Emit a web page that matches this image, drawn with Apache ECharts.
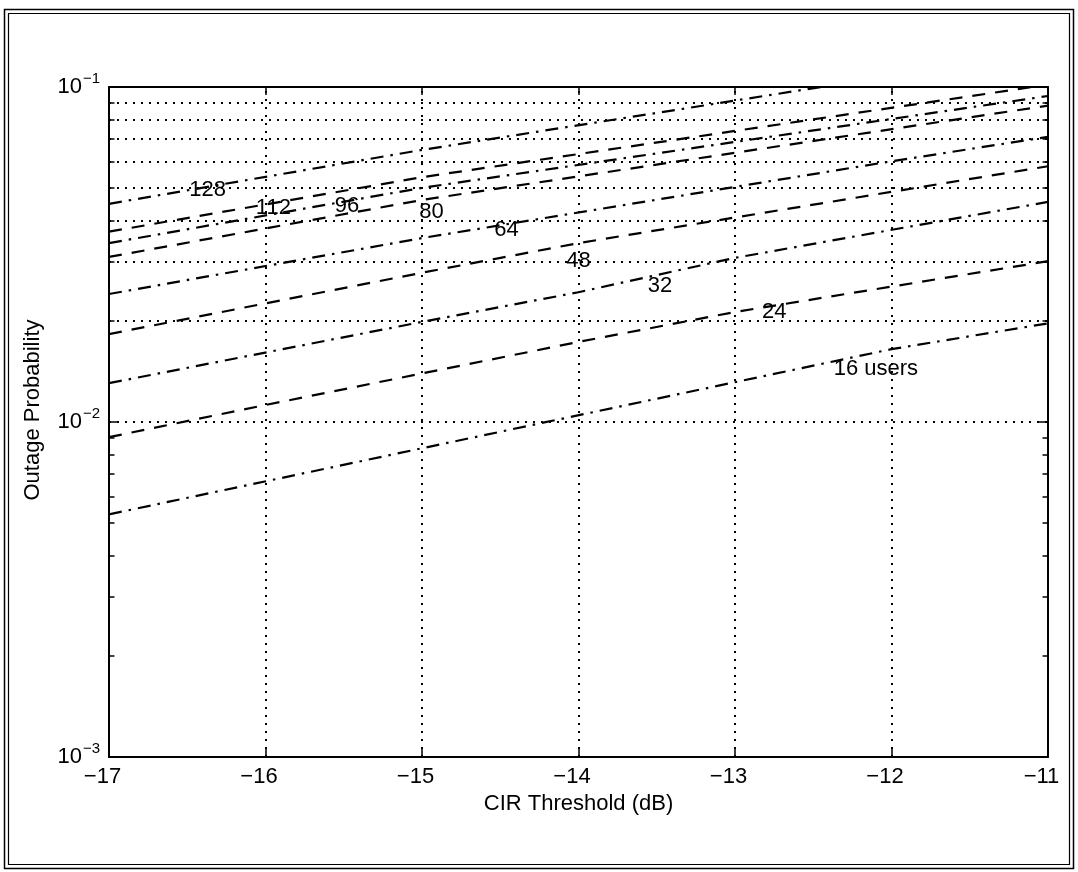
<!DOCTYPE html>
<html>
<head>
<meta charset="utf-8">
<script src="https://cdn.jsdelivr.net/npm/echarts@6/dist/echarts.min.js"></script>
<style>
  html, body { margin: 0; padding: 0; background: #fff; }
  #chart { width: 1078px; height: 872px; }
</style>
</head>
<body>
<div id="chart"></div>
<script>
// Outage probability vs. CIR threshold, one curve per number of users.
// Each curve: [CIR threshold (dB), outage probability] readings.
const userCounts = [128, 112, 96, 80, 64, 48, 32, 24, 16];
const curveNames = ['128', '112', '96', '80', '64', '48', '32', '24', '16 users'];

const outage128 = [[-17, 0.0448], [-15, 0.0649], [-12.45, 0.1]];
const outage112 = [[-17, 0.0370], [-15, 0.0538], [-11.1, 0.1]];
const outage96  = [[-17, 0.0342], [-15, 0.0500], [-11, 0.094]];
const outage80  = [[-17, 0.0311], [-15, 0.0460], [-11, 0.088]];
const outage64  = [[-17, 0.0241], [-15, 0.0354], [-12, 0.0600], [-11, 0.0710]];
const outage48  = [[-17, 0.0183], [-15, 0.0279], [-14, 0.0342], [-11, 0.0580]];
const outage32  = [[-17, 0.01306], [-15, 0.0199], [-14, 0.0244], [-13, 0.0309], [-11, 0.0454]];
const outage24  = [[-17, 0.00901], [-16, 0.01124], [-14, 0.01734], [-13, 0.0213], [-11, 0.0302]];
const outage16  = [[-17, 0.0053], [-12, 0.0165], [-11, 0.0197]];

const curves = [outage128, outage112, outage96, outage80, outage64, outage48, outage32, outage24, outage16];

// Curve label anchors in data coordinates (dB, probability)
const labelAnchors = [
  [-16.37, 0.0493], [-15.95, 0.0435], [-15.48, 0.0441], [-14.94, 0.0423],
  [-14.46, 0.0374], [-14.00, 0.0303], [-13.48, 0.0255], [-12.75, 0.0213], [-12.10, 0.0144]
];

// Axis ranges and grid values
const xRange = [-17, -11];
const xGridTicks = [-16, -15, -14, -13, -12];
const yRange = [0.001, 0.1];
const yMinorValues = [0.002, 0.003, 0.004, 0.005, 0.006, 0.007, 0.008, 0.009,
                      0.02, 0.03, 0.04, 0.05, 0.06, 0.07, 0.08, 0.09];
const yInnerDecades = [0.01];

const FONT = 'Liberation Sans, Arial, Helvetica, sans-serif';
const DASHED = [13, 10];
const DASH_DOT = [13, 7, 2.5, 7];
const DOTTED = [2, 6];

const chart = echarts.init(document.getElementById('chart'), null, { renderer: 'canvas' });

const fmtX = v => (v < 0 ? '\u2212' + Math.abs(v) : String(v));
const fmtY = v => {
  const e = Math.round(Math.log10(v));
  return '{b|10}{s|' + (e < 0 ? '\u2212' + (-e) : e) + '}';
};

const tickLenX = 0.035;        // minor tick length in dB units
const curveSeries = curves.map((pts, i) => ({
  name: curveNames[i],
  type: 'line',
  data: pts,
  showSymbol: false,
  symbol: 'none',
  clip: true,
  silent: true,
  animation: false,
  lineStyle: { color: '#000', width: 2.2, type: i % 2 === 0 ? DASH_DOT : DASHED },
  z: 3
}));

const gridLines = [];
yMinorValues.concat(yInnerDecades).forEach(v => gridLines.push({ yAxis: v }));
xGridTicks.forEach(v => gridLines.push({ xAxis: v }));

const minorTicks = [];
yMinorValues.forEach(v => {
  minorTicks.push([{ coord: [xRange[0], v] }, { coord: [xRange[0] + tickLenX, v] }]);
  minorTicks.push([{ coord: [xRange[1] - tickLenX, v] }, { coord: [xRange[1], v] }]);
});

const option = {
  animation: false,
  backgroundColor: '#fff',
  textStyle: { fontFamily: FONT, color: '#000' },
  grid: { left: 109, top: 87, right: 30, bottom: 115, containLabel: false },
  xAxis: [
    {
      type: 'value', min: xRange[0], max: xRange[1], interval: 1, position: 'bottom',
      axisLine: { lineStyle: { color: '#000', width: 2 } },
      axisTick: { inside: true, length: 8, lineStyle: { color: '#000', width: 1.5 } },
      axisLabel: { color: '#000', fontSize: 22, fontFamily: FONT, margin: 9,
                   formatter: fmtX, padding: [0, 13, 0, 0] },
      splitLine: { show: false },
      name: 'CIR Threshold (dB)', nameLocation: 'middle', nameGap: 31,
      nameTextStyle: { color: '#000', fontSize: 22, fontFamily: FONT }
    },
    {
      type: 'value', min: xRange[0], max: xRange[1], interval: 1, position: 'top',
      axisLine: { lineStyle: { color: '#000', width: 2 } },
      axisTick: { inside: true, length: 8, lineStyle: { color: '#000', width: 1.5 } },
      axisLabel: { show: false }, splitLine: { show: false }
    }
  ],
  yAxis: [
    {
      type: 'log', logBase: 10, min: yRange[0], max: yRange[1], position: 'left',
      axisLine: { show: true, lineStyle: { color: '#000', width: 2 } },
      axisTick: { show: true, inside: true, length: 9, lineStyle: { color: '#000', width: 1.5 } },
      axisLabel: {
        color: '#000', margin: 9, formatter: fmtY,
        rich: {
          b: { fontSize: 22, fontFamily: FONT, color: '#000', lineHeight: 22 },
          s: { fontSize: 15, fontFamily: FONT, color: '#000', lineHeight: 15, padding: [0, 0, 16, 1] }
        }
      },
      splitLine: { show: false }, minorTick: { show: false }
    },
    {
      type: 'log', logBase: 10, min: yRange[0], max: yRange[1], position: 'right',
      axisLine: { show: true, lineStyle: { color: '#000', width: 2 } },
      axisTick: { show: true, inside: true, length: 9, lineStyle: { color: '#000', width: 1.5 } },
      axisLabel: { show: false }, splitLine: { show: false }
    }
  ],
  graphic: [
    { type: 'rect', silent: true, shape: { x: 4.5, y: 9.5, width: 1069, height: 859 },
      style: { fill: 'none', stroke: '#000', lineWidth: 1.5 } },
    { type: 'rect', silent: true, shape: { x: 8.5, y: 13.5, width: 1061, height: 851 },
      style: { fill: 'none', stroke: '#000', lineWidth: 1.2 } },
    { type: 'text', silent: true, x: 33, y: 410, rotation: Math.PI / 2,
      style: { text: 'Outage Probability', font: '22px ' + FONT, fill: '#000',
               align: 'center', verticalAlign: 'middle' } }
  ],
  series: [
    {
      name: 'grid', type: 'line', data: [], silent: true, animation: false,
      markLine: {
        silent: true, symbol: ['none', 'none'], animation: false,
        label: { show: false },
        lineStyle: { color: '#000', width: 2, type: DOTTED },
        data: gridLines
      },
      z: 1
    },
    {
      name: 'minor ticks', type: 'line', data: [], silent: true, animation: false,
      markLine: {
        silent: true, symbol: ['none', 'none'], animation: false,
        label: { show: false },
        lineStyle: { color: '#000', width: 1.5, type: 'solid' },
        data: minorTicks
      },
      z: 2
    },
    ...curveSeries,
    {
      name: 'labels', type: 'scatter', symbolSize: 0, silent: true, animation: false,
      itemStyle: { opacity: 1 },
      data: labelAnchors.map((p, i) => ({ value: p, name: curveNames[i] })),
      label: {
        show: true, position: 'inside', formatter: p => p.name,
        color: '#000', fontSize: 22, fontFamily: FONT,
        textBorderWidth: 0, opacity: 1
      },
      z: 5
    }
  ]
};

chart.setOption(option);
</script>
</body>
</html>
